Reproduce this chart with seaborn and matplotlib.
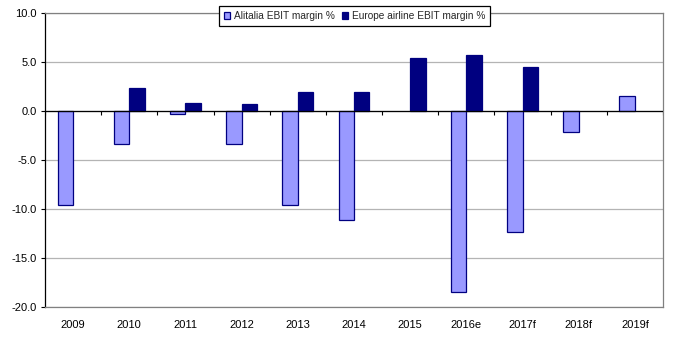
import numpy as np
import pandas as pd
import matplotlib
matplotlib.use("Agg")
import matplotlib.pyplot as plt
import seaborn as sns

years = ["2009", "2010", "2011", "2012", "2013", "2014", "2015", "2016e", "2017f", "2018f", "2019f"]
alitalia = [-9.6, -3.4, -0.3, -3.4, -9.6, -11.1, np.nan, -18.5, -12.3, -2.1, 1.5]
europe = [np.nan, 2.3, 0.8, 0.7, 1.95, 1.95, 5.4, 5.75, 4.5, np.nan, np.nan]
series_names = ["Alitalia EBIT margin %", "Europe airline EBIT margin %"]
colors = ["#9999FF", "#000080"]
yticks = [-20, -15, -10, -5, 0, 5, 10]

df = pd.DataFrame({
    "year": years * 2,
    "value": alitalia + europe,
    "series": [series_names[0]] * len(years) + [series_names[1]] * len(years),
})

sns.set_theme(style="white")
plt.rcParams["font.family"] = ["Liberation Sans", "DejaVu Sans"]

fig = plt.figure(figsize=(6.74, 3.37), dpi=100)
ax = fig.add_axes([45 / 674, 1 - 307 / 337, 618 / 674, 294 / 337])

sns.barplot(data=df, x="year", y="value", hue="series", order=years,
            hue_order=series_names, palette=colors, width=0.55,
            edgecolor="#000080", linewidth=0.9, saturation=1, ax=ax, zorder=3)

ax.set_ylim(-20, 10)
ax.set_xlim(-0.5, len(years) - 0.5)
ax.set_yticks(yticks)
ax.set_yticklabels([f"{v:.1f}" for v in yticks], fontsize=8, color="black")
ax.yaxis.grid(True, color="#B4B4B4", linewidth=0.9, zorder=0)
ax.set_axisbelow(True)
ax.set_xlabel("")
ax.set_ylabel("")

ax.tick_params(axis="y", which="both", left=True, length=3, width=0.8, color="black", pad=3)
ax.tick_params(axis="x", which="both", bottom=False, length=0, pad=9, labelsize=8, labelcolor="black")

for side in ["top", "right", "bottom"]:
    ax.spines[side].set_color("#808080")
    ax.spines[side].set_linewidth(0.9)
ax.spines["left"].set_color("black")
ax.spines["left"].set_linewidth(0.9)

# zero axis line with category ticks
ax.axhline(0, color="black", linewidth=0.9, zorder=4)
bounds = np.arange(len(years) + 1) - 0.5
ax.vlines(bounds, -0.4, 0, color="black", linewidth=0.8, zorder=4)

leg = ax.legend(loc="upper center", bbox_to_anchor=(0.501, 1 + 7 / 294), ncol=2,
                frameon=True, fancybox=False, fontsize=7.3, handlelength=0.6,
                handleheight=0.6, handletextpad=0.4, columnspacing=0.7,
                borderpad=0.5, borderaxespad=0)
leg.get_frame().set_edgecolor("black")
leg.get_frame().set_linewidth(0.9)
leg.get_frame().set_alpha(1)
leg.set_zorder(10)

fig.savefig("out.png", dpi=100)
